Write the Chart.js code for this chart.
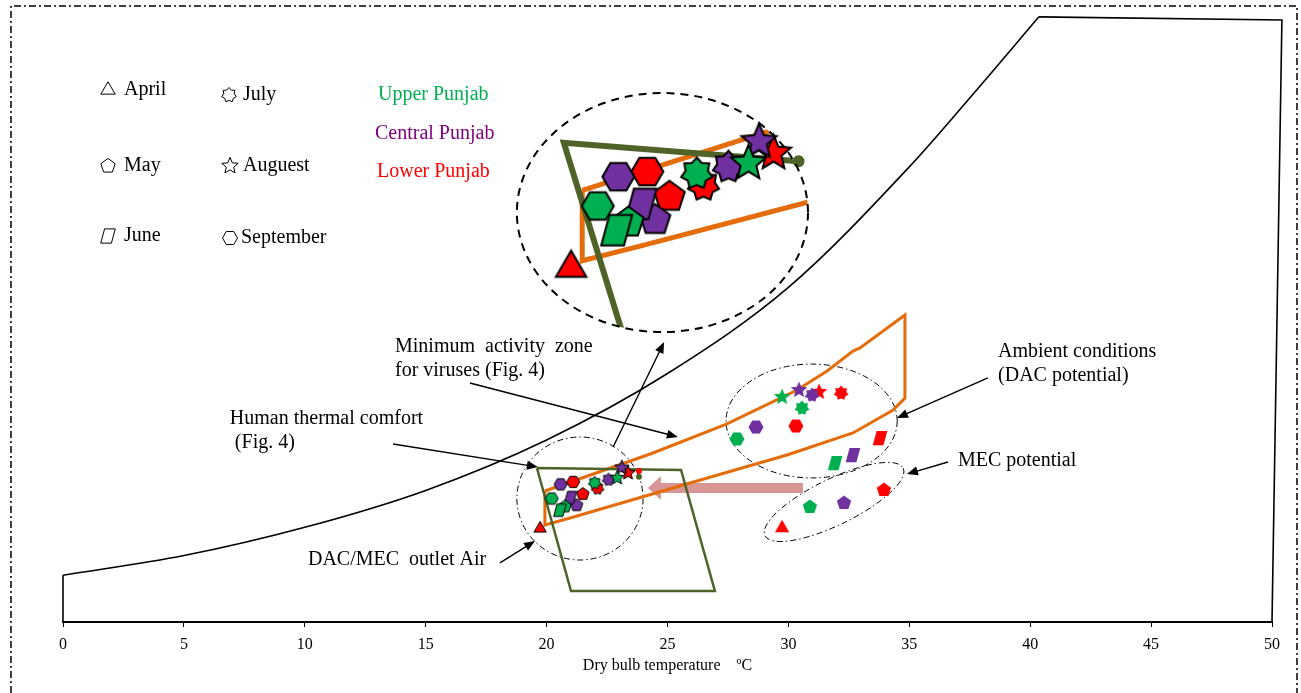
<!DOCTYPE html>
<html>
<head>
<meta charset="utf-8">
<script src="https://cdn.jsdelivr.net/npm/chart.js@4.4.0/dist/chart.umd.min.js"></script>
<style>
  html, body { margin: 0; padding: 0; background: #fff; }
  #wrap { position: relative; width: 1301px; height: 693px; }
</style>
</head>
<body>
<div id="wrap"><canvas id="chart"></canvas></div>
<script>
const FONT = '"Liberation Serif", "Times New Roman", serif';

// months and their marker shapes
const months = ['April', 'May', 'June', 'July', 'Auguest', 'September'];
const monthShapes = ['triangle', 'pentagon', 'parallelogram', 'heptagram', 'star', 'hexagon'];
const regionNames = ['Upper Punjab', 'Central Punjab', 'Lower Punjab'];
const regionColors = ['#00b050', '#7030a0', '#ff0000'];

// ambient air (DAC inlet): dry bulb °C and humidity ratio g/kg, by month
const upperAmbientT = [null, 30.89, 31.93, 30.56, 29.74, 27.87];
const upperAmbientW = [null, 9.35, 12.93, 17.40, 18.29, 14.88];
const centralAmbientT = [null, 32.30, 32.67, 30.98, 30.44, 28.66];
const centralAmbientW = [null, 9.67, 13.58, 18.46, 18.86, 15.85];
const lowerAmbientT = [29.74, 33.95, 33.79, 32.18, 31.27, 30.31];
const lowerAmbientW = [7.64, 10.73, 14.96, 18.62, 18.70, 15.93];

// DAC/MEC outlet air, by month
const upperOutletT = [null, 20.76, 20.55, 21.99, 22.92, 20.21];
const upperOutletW = [null, 9.39, 9.09, 11.32, 11.72, 10.04];
const centralOutletT = [null, 21.24, 20.99, 22.56, 23.11, 20.58];
const centralOutletW = [null, 9.49, 10.12, 11.58, 12.56, 11.19];
const lowerOutletT = [19.73, 21.50, null, 22.11, 23.37, 21.10];
const lowerOutletW = [7.60, 10.40, null, 10.86, 12.11, 11.39];

// saturation curve and chart boundary
const satT = [0, 5, 10, 15, 20, 25, 30, 35, 37.5, 40.36];
const satW = [3.8, 5.4, 7.7, 10.7, 14.8, 20.2, 27.2, 37.0, 42.6, 49.2];
const edgeT = [0, 0];
const edgeW = [0, 3.8];
const topT = [40.36, 50.41, 50];
const topW = [49.2, 48.94, 0];

// zones
const ambientZoneT = [19.93, 24.40, 27.46, 30.36, 31.60, 32.67, 32.96, 34.82, 34.82, 34.33, 32.67, 29.94, 25.93, 20.97, 19.93, 19.93];
const ambientZoneW = [10.65, 13.74, 16.10, 18.86, 20.41, 22.03, 22.28, 24.96, 18.21, 17.24, 15.37, 13.58, 11.30, 8.46, 7.89, 10.65];
const comfortZoneT = [19.60, 25.56, 26.96, 21.01, 19.60];
const comfortZoneW = [12.52, 12.36, 2.52, 2.52, 12.52];
const insetGuideT = [23.82, 19.60, 21.01];
const insetGuideW = [11.80, 12.52, 2.52];
const outletEndT = [23.82];
const outletEndW = [11.80];
const outletTipW = [12.28];

const xTicks = [0, 5, 10, 15, 20, 25, 30, 35, 40, 45, 50];

// annotations (data coordinates)
const zoomCircle = { x: 24.79, y: 33.29, rx: 6.02, ry: 9.72 };
const groupEllipses = [
    { x: 21.38, y: 10.04, rx: 2.61, ry: 5.0, rot: 0 },
    { x: 30.96, y: 16.34, rx: 3.54, ry: 4.63, rot: 0 },
    { x: 31.89, y: 9.76, rx: 3.18, ry: 1.87, rot: -26 },
];
const arrows = [
    { from: [16.83, 19.43], to: [25.43, 15.04] },
    { from: [13.65, 14.47], to: [19.64, 12.60] },
    { from: [22.75, 14.23], to: [24.86, 22.76] },
    { from: [38.25, 19.84], to: [34.49, 16.59] },
    { from: [36.60, 13.01], to: [34.90, 12.03] },
    { from: [18.07, 4.80], to: [19.52, 6.59] },
];
const coolingArrow = { from: [30.6, 10.89], to: [24.19, 10.89] };
const notes = [
    { lines: ['Minimum  activity  zone', 'for viruses (Fig. 4)'], x: 13.73, y: 22.36 },
    { lines: ['Human thermal comfort', ' (Fig. 4)'], x: 6.9, y: 16.50 },
    { lines: ['Ambient conditions', '(DAC potential)'], x: 38.67, y: 21.95 },
    { lines: ['MEC potential'], x: 37.01, y: 13.09 },
    { lines: ['DAC/MEC  outlet Air'], x: 10.13, y: 5.04 },
];

// ---------- marker shapes ----------
function regularPts(n, r, start) {
    const pts = [];
    for (let i = 0; i < n; i++) {
        const a = start + i * 2 * Math.PI / n;
        pts.push([r * Math.cos(a), r * Math.sin(a)]);
    }
    return pts;
}

function starPts(n, r, inner) {
    const pts = [];
    for (let i = 0; i < 2 * n; i++) {
        const a = -Math.PI / 2 + i * Math.PI / n;
        const rr = i % 2 === 0 ? r : r * inner;
        pts.push([rr * Math.cos(a), rr * Math.sin(a)]);
    }
    return pts;
}

function shapePts(shape, r) {
    switch (shape) {
        case 'triangle': return regularPts(3, r, -Math.PI / 2);
        case 'pentagon': return regularPts(5, r, -Math.PI / 2);
        case 'hexagon': return regularPts(6, r, 0);
        case 'star': return starPts(5, r, 0.45);
        case 'heptagram': return starPts(7, r, 0.72);
        case 'parallelogram': {
            const w = 0.75 * r, k = 0.27 * r;
            return [[-w + k, -r], [w + k, -r], [w - k, r], [-w - k, r]];
        }
    }
    return [];
}

const shapeScale = { triangle: 1.1, pentagon: 1.0, parallelogram: 0.95, heptagram: 1.0, star: 1.15, hexagon: 1.0 };

function traceShape(g, shape, r) {
    const pts = shapePts(shape, r * shapeScale[shape]);
    g.beginPath();
    pts.forEach((p, i) => i ? g.lineTo(p[0], p[1]) : g.moveTo(p[0], p[1]));
    g.closePath();
}

function makeMarker(shape, fill, r, stroke, lw) {
    const size = Math.ceil(2 * r * 1.2 + 2 * lw + 4);
    const c = document.createElement('canvas');
    c.width = size;
    c.height = size;
    const g = c.getContext('2d');
    g.translate(size / 2, size / 2);
    traceShape(g, shape, r);
    g.fillStyle = fill;
    g.fill();
    if (stroke) {
        g.lineWidth = lw;
        g.strokeStyle = stroke;
        g.lineJoin = 'miter';
        g.stroke();
    }
    return c;
}

function markerSet(label, tArr, wArr, color, r, stroke, lw, order, inset) {
    const data = [];
    const styles = [];
    months.forEach((m, i) => {
        if (tArr[i] == null) return;
        data.push({ x: tArr[i], y: wArr[i] });
        styles.push(makeMarker(monthShapes[i], color, r, stroke, lw));
    });
    return {
        label: label,
        data: data,
        showLine: false,
        pointRadius: 6,
        pointStyle: ctx => styles[ctx.dataIndex],
        order: order,
        clip: false,
        xAxisID: inset ? 'xInset' : 'x',
        yAxisID: inset ? 'yInset' : 'y',
    };
}

function lineSet(label, tArr, wArr, color, width, order, extra) {
    return Object.assign({
        label: label,
        data: tArr.map((t, i) => ({ x: t, y: wArr[i] })),
        showLine: true,
        borderColor: color,
        borderWidth: width,
        pointRadius: 0,
        fill: false,
        tension: 0,
        order: order,
        clip: false,
        xAxisID: 'x',
        yAxisID: 'y',
    }, extra || {});
}

const ORANGE = '#e46c0a';
const OLIVE = '#4f6228';

const datasets = [
    // inset (magnified view)
    markerSet('Upper outlet (zoom)', upperOutletT, upperOutletW, regionColors[0], 16, '#000', 2, 0, true),
    markerSet('Central outlet (zoom)', centralOutletT, centralOutletW, regionColors[1], 16, '#000', 2, 0, true),
    markerSet('Lower outlet (zoom)', lowerOutletT, lowerOutletW, regionColors[2], 16, '#000', 2, 0, true),
    lineSet('Outlet end (zoom)', outletEndT, outletEndW, OLIVE, 1, 1, {
        xAxisID: 'xInset', yAxisID: 'yInset', showLine: false, pointRadius: 6,
        pointBackgroundColor: OLIVE, pointBorderWidth: 0,
    }),
    lineSet('Comfort (zoom)', insetGuideT, insetGuideW, OLIVE, 6, 1, { xAxisID: 'xInset', yAxisID: 'yInset', insetClip: true }),
    lineSet('Ambient zone (zoom)', ambientZoneT, ambientZoneW, ORANGE, 5, 1, { xAxisID: 'xInset', yAxisID: 'yInset', insetClip: true }),

    // main chart
    markerSet('Upper outlet', upperOutletT, upperOutletW, regionColors[0], 6.5, '#000', 1, 2),
    markerSet('Central outlet', centralOutletT, centralOutletW, regionColors[1], 6.5, '#000', 1, 2),
    markerSet('Lower outlet', lowerOutletT, lowerOutletW, regionColors[2], 6.5, '#000', 1, 2),
    lineSet('Outlet end', outletEndT, outletEndW, OLIVE, 1, 2, { showLine: false, pointRadius: 3, pointBackgroundColor: OLIVE, pointBorderWidth: 0 }),
    lineSet('Outlet tip', outletEndT, outletTipW, '#ff0000', 1, 2, { showLine: false, pointRadius: 3, pointBackgroundColor: '#ff0000', pointBorderWidth: 0 }),
    markerSet('Upper ambient', upperAmbientT, upperAmbientW, regionColors[0], 7.5, null, 0, 2),
    markerSet('Central ambient', centralAmbientT, centralAmbientW, regionColors[1], 7.5, null, 0, 2),
    markerSet('Lower ambient', lowerAmbientT, lowerAmbientW, regionColors[2], 7.5, null, 0, 2),
    lineSet('Human thermal comfort', comfortZoneT, comfortZoneW, OLIVE, 2.5, 3),
    lineSet('Ambient conditions', ambientZoneT, ambientZoneW, ORANGE, 3, 3),
    lineSet('Saturation', satT, satW, '#000', 1.6, 4, { cubicInterpolationMode: 'monotone' }),
    lineSet('Edge', edgeT, edgeW, '#000', 1.6, 4),
    lineSet('Top', topT, topW, '#000', 1.6, 4),
];

// ---------- drawing helpers ----------
function px(chart, v) { return chart.scales.x.getPixelForValue(v); }
function py(chart, v) { return chart.scales.y.getPixelForValue(v); }

function ellipsePath(ctx, chart, e) {
    const cx = px(chart, e.x), cy = py(chart, e.y);
    const rx = px(chart, e.x + e.rx) - cx;
    const ry = cy - py(chart, e.y + e.ry);
    ctx.beginPath();
    ctx.ellipse(cx, cy, rx, ry, (e.rot || 0) * Math.PI / 180, 0, 2 * Math.PI);
}

function drawArrow(ctx, x1, y1, x2, y2) {
    const a = Math.atan2(y2 - y1, x2 - x1);
    const hl = 11, hw = 4.5;
    ctx.beginPath();
    ctx.moveTo(x1, y1);
    ctx.lineTo(x2 - hl * 0.8 * Math.cos(a), y2 - hl * 0.8 * Math.sin(a));
    ctx.stroke();
    ctx.beginPath();
    ctx.moveTo(x2, y2);
    ctx.lineTo(x2 - hl * Math.cos(a) + hw * Math.sin(a), y2 - hl * Math.sin(a) - hw * Math.cos(a));
    ctx.lineTo(x2 - hl * Math.cos(a) - hw * Math.sin(a), y2 - hl * Math.sin(a) + hw * Math.cos(a));
    ctx.closePath();
    ctx.fill();
}

const insetClip = {
    id: 'insetClip',
    beforeDatasetDraw(chart, args) {
        if (!chart.data.datasets[args.index].insetClip) return;
        chart.ctx.save();
        ellipsePath(chart.ctx, chart, zoomCircle);
        chart.ctx.clip();
    },
    afterDatasetDraw(chart, args) {
        if (!chart.data.datasets[args.index].insetClip) return;
        chart.ctx.restore();
    },
};

const annotations = {
    id: 'annotations',
    beforeDatasetsDraw(chart) {
        const ctx = chart.ctx;
        ctx.save();
        // cooling arrow
        const x1 = px(chart, coolingArrow.from[0]);
        const x2 = px(chart, coolingArrow.to[0]);
        const y = py(chart, coolingArrow.from[1]);
        ctx.fillStyle = '#d99694';
        ctx.beginPath();
        ctx.moveTo(x1, y - 5);
        ctx.lineTo(x2 + 13, y - 5);
        ctx.lineTo(x2 + 13, y - 12);
        ctx.lineTo(x2, y);
        ctx.lineTo(x2 + 13, y + 12);
        ctx.lineTo(x2 + 13, y + 5);
        ctx.lineTo(x1, y + 5);
        ctx.closePath();
        ctx.fill();
        // group ellipses
        ctx.strokeStyle = '#000';
        ctx.lineWidth = 1;
        ctx.setLineDash([6, 3, 1.5, 3]);
        groupEllipses.forEach(e => { ellipsePath(ctx, chart, e); ctx.stroke(); });
        ctx.restore();
    },
    afterDatasetsDraw(chart) {
        const ctx = chart.ctx;
        ctx.save();
        // magnifier outline
        ctx.strokeStyle = '#000';
        ctx.lineWidth = 2;
        ctx.setLineDash([8, 6]);
        ellipsePath(ctx, chart, zoomCircle);
        ctx.stroke();
        ctx.setLineDash([]);

        // pointer arrows
        ctx.lineWidth = 1.4;
        ctx.fillStyle = '#000';
        arrows.forEach(a => drawArrow(ctx,
            px(chart, a.from[0]), py(chart, a.from[1]),
            px(chart, a.to[0]), py(chart, a.to[1])));

        // notes
        ctx.font = '20px ' + FONT;
        ctx.textBaseline = 'middle';
        ctx.textAlign = 'left';
        notes.forEach(n => {
            n.lines.forEach((t, i) => ctx.fillText(t, px(chart, n.x), py(chart, n.y) + i * 24));
        });

        // legend: months
        const monthPos = [[108, 90], [108, 166], [108, 236], [229, 95], [230, 166], [230, 238]];
        const textX = [124, 124, 124, 243, 243, 241];
        months.forEach((m, i) => {
            ctx.save();
            ctx.translate(monthPos[i][0], monthPos[i][1]);
            traceShape(ctx, monthShapes[i], 7.5);
            ctx.fillStyle = '#fff';
            ctx.fill();
            ctx.lineWidth = 1;
            ctx.strokeStyle = '#000';
            ctx.stroke();
            ctx.restore();
            ctx.fillStyle = '#000';
            ctx.fillText(m, textX[i], monthPos[i][1]);
        });
        // legend: regions
        const regionPos = [[378, 95], [375, 134], [377, 172]];
        const regionText = ['#00b050', '#800080', '#ff0000'];
        regionNames.forEach((r, i) => {
            ctx.fillStyle = regionText[i];
            ctx.fillText(r, regionPos[i][0], regionPos[i][1]);
        });

        // outer frame
        const w = chart.width, h = chart.height;
        ctx.strokeStyle = '#000';
        ctx.lineWidth = 1.5;
        ctx.setLineDash([7, 3, 2, 3]);
        ctx.beginPath();
        ctx.moveTo(11, h);
        ctx.lineTo(11, 6);
        ctx.lineTo(w - 4, 6);
        ctx.lineTo(w - 4, h);
        ctx.stroke();
        ctx.restore();
    },
};

new Chart(document.getElementById('chart'), {
    type: 'scatter',
    data: { datasets: datasets },
    options: {
        responsive: true,
        maintainAspectRatio: false,
        animation: false,
        devicePixelRatio: 1,
        events: [],
        layout: { padding: { top: 7, left: 63, right: 29, bottom: 0 } },
        plugins: {
            legend: { display: false },
            tooltip: { enabled: false },
        },
        scales: {
            x: {
                type: 'linear',
                min: 0,
                max: 50,
                afterFit(scale) { scale.height = 71; },
                afterBuildTicks(scale) { scale.ticks = xTicks.map(v => ({ value: v })); },
                ticks: {
                    color: '#000',
                    padding: 8,
                    maxRotation: 0,
                    font: { family: FONT, size: 16 },
                },
                grid: {
                    display: true,
                    drawOnChartArea: false,
                    drawTicks: true,
                    tickLength: 5,
                    color: '#000',
                },
                border: { display: true, color: '#000', width: 2 },
                title: {
                    display: true,
                    text: 'Dry bulb temperature    ºC',
                    color: '#000',
                    font: { family: FONT, size: 16 },
                    padding: { top: 0, bottom: 18 },
                },
            },
            y: { type: 'linear', display: false, min: 0, max: 50 },
            xInset: { type: 'linear', display: false, min: 10.593, max: 32.334 },
            yInset: { type: 'linear', display: false, min: -6.30, max: 17.855 },
        },
    },
    plugins: [insetClip, annotations],
});
</script>
</body>
</html>
